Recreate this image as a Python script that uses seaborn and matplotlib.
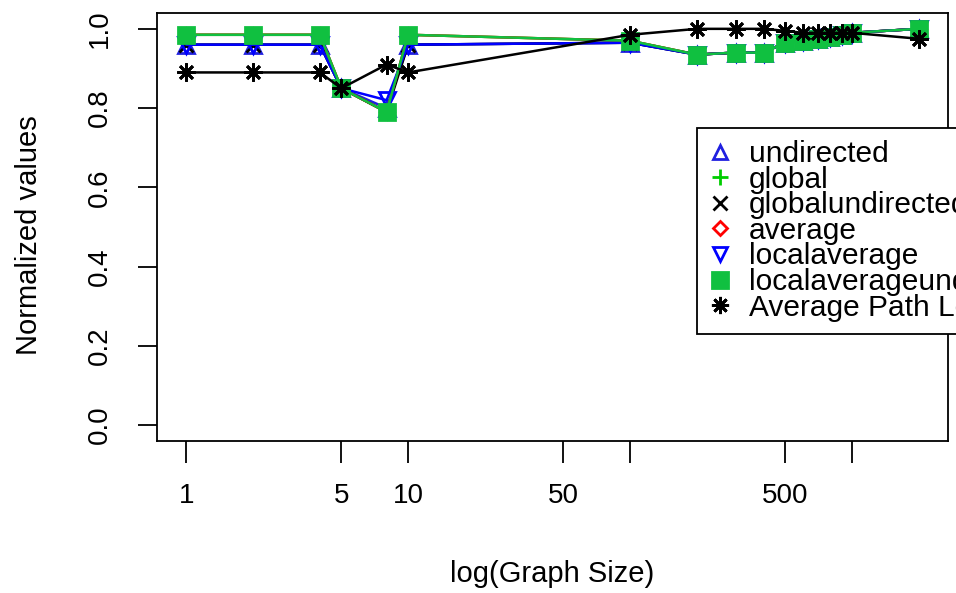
import matplotlib
matplotlib.use("Agg")
import matplotlib.pyplot as plt
from matplotlib.lines import Line2D
import pandas as pd
import seaborn as sns

# graph sizes (x) and normalized values per measure
sizes = [1, 2, 4, 5, 8, 10, 100, 200, 300, 400, 500, 600, 700, 800, 900, 1000, 2000]

undirected = [0.96, 0.96, 0.96, 0.85, 0.80, 0.96, 0.965, 0.935, 0.94, 0.94, 0.965, 0.97, 0.975, 0.98, 0.985, 0.99, 1.0]
global_cc = [0.985, 0.985, 0.985, 0.85, 0.79, 0.985, 0.97, 0.935, 0.94, 0.94, 0.965, 0.97, 0.975, 0.98, 0.985, 0.99, 1.0]
globalundirected = [0.96, 0.96, 0.96, 0.85, 0.79, 0.96, 0.965, 0.935, 0.94, 0.94, 0.965, 0.97, 0.975, 0.98, 0.985, 0.99, 1.0]
average = [0.985, 0.985, 0.985, 0.85, 0.79, 0.985, 0.97, 0.935, 0.94, 0.94, 0.965, 0.97, 0.975, 0.98, 0.985, 0.99, 1.0]
localaverage = [0.96, 0.96, 0.96, 0.85, 0.82, 0.96, 0.965, 0.935, 0.94, 0.94, 0.965, 0.97, 0.975, 0.98, 0.985, 0.99, 1.0]
localaverageundirected = [0.985, 0.985, 0.985, 0.85, 0.79, 0.985, 0.97, 0.935, 0.94, 0.94, 0.965, 0.97, 0.975, 0.98, 0.985, 0.99, 1.0]
avg_path_length = [0.89, 0.89, 0.89, 0.85, 0.91, 0.89, 0.985, 1.0, 1.0, 1.0, 0.995, 0.99, 0.99, 0.99, 0.99, 0.99, 0.975]

labels = ["undirected", "global", "globalundirected", "average",
          "localaverage", "localaverageundirected", "Average Path Length"]
xtick_vals = [1, 5, 10, 50, 100, 500, 1000]
xtick_text = ["1", "5", "10", "50", "", "500", ""]

series = [undirected, global_cc, globalundirected, average,
          localaverage, localaverageundirected, avg_path_length]
colors = ["#2020E0", "#00CD00", "black", "#FF0000", "#0000FF", "#10C040", "black"]
markers = ["^", "+", "x", "D", "v", "s", (8, 2, 0)]
filled = [False, True, True, False, False, True, True]
msizes = [11, 12, 10, 7, 11, 12, 13]

sns.set_style("white")
plt.rcParams["font.family"] = ["Liberation Sans", "DejaVu Sans"]
plt.rcParams["text.color"] = "black"
plt.rcParams["axes.labelcolor"] = "black"

fig = plt.figure(figsize=(9.56, 5.93), dpi=100)
ax = fig.add_axes([0.1642, 0.2563, 0.8274, 0.7218])

handles = []
for lab, vals, c, m, f, ms in zip(labels, series, colors, markers, filled, msizes):
    df = pd.DataFrame({"size": sizes, "value": vals})
    face = c if f else "none"
    sns.lineplot(data=df, x="size", y="value", ax=ax, color=c, linewidth=1.8,
                 marker=m, markersize=ms, markerfacecolor=face, markeredgecolor=c,
                 markeredgewidth=2, estimator=None, sort=False, legend=False)
    handles.append(Line2D([], [], linestyle="none", marker=m, markersize=ms * 0.95,
                          markerfacecolor=face, markeredgecolor=c, markeredgewidth=2,
                          label=lab))

ax.set_xscale("log")
ax.set_xlim(0.738, 2711)
ax.set_ylim(-0.04, 1.04)
ax.set_xticks(xtick_vals)
ax.set_xticklabels(xtick_text)
ax.minorticks_off()
ax.set_yticks([0.0, 0.2, 0.4, 0.6, 0.8, 1.0])
ax.set_yticklabels(["0.0", "0.2", "0.4", "0.6", "0.8", "1.0"], rotation=90, va="center")

ax.tick_params(axis="x", direction="out", length=16, width=1.3, pad=14,
               labelsize=20, colors="black", bottom=True)
ax.tick_params(axis="y", direction="out", length=14, width=1.3, pad=18,
               labelsize=20, colors="black", left=True)
for sp in ax.spines.values():
    sp.set_color("black")
    sp.set_linewidth(1.3)

ax.set_xlabel("log(Graph Size)", fontsize=21)
ax.set_ylabel("Normalized values", fontsize=21)
ax.xaxis.set_label_coords(0.5, -0.278)
ax.yaxis.set_label_coords(-0.144, 0.48)

leg = fig.legend(handles=handles, loc="upper left", bbox_to_anchor=(0.729, 0.784),
                 borderaxespad=0, fontsize=21.5, frameon=True, fancybox=False,
                 labelspacing=-0.08, handlelength=0.75, handletextpad=0.6,
                 borderpad=0.4, framealpha=1)
leg.get_frame().set_edgecolor("black")
leg.get_frame().set_linewidth(1.3)

fig.savefig("out.png", dpi=100)
